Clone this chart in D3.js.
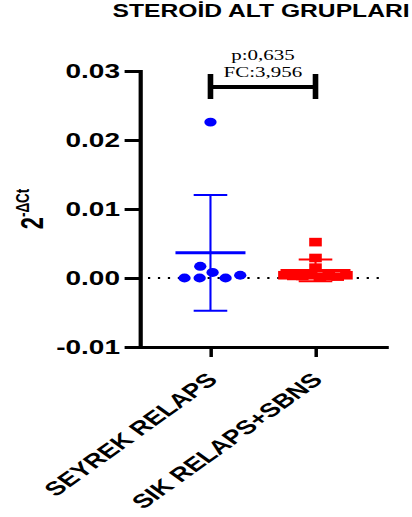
<!DOCTYPE html>
<html><head><meta charset="utf-8">
<script src="https://cdn.jsdelivr.net/npm/d3@7"></script>
<style>body{margin:0;background:#fff}svg{display:block}</style>
</head><body><svg id="c"></svg>
<script>
const title = "STEROİD ALT GRUPLARI";
const categories = ["SEYREK RELAPS", "SIK RELAPS+SBNS"];
const seyrekValues = [0, 0.0008, 0.0226, 0, 0.0017, 0.0004, 0];
const sikValues = [0.0052, 0.0029, 0.0015, 0.0004, 0.0003, 0.0002, 0.0004, 0.0003, 0.0002, 0.0003, 0.0004];
const yTickValues = [-0.01, 0, 0.01, 0.02, 0.03];
const yTickLabels = ["-0.01", "0.00", "0.01", "0.02", "0.03"];
const annotationLines = ["p:0,635", "FC:3,956"];
const yLabelBase = "2", yLabelSup = "-ΔCt";
const colors = ["#0000ff", "#ff0000"];

const W = 412, H = 517, SX = 1.4, W0 = W / SX;
const SANS = "'Liberation Sans', Arial, Helvetica, sans-serif";
const SERIF = "'Liberation Serif', 'Times New Roman', serif";

const svg = d3.select("#c").attr("width", W).attr("height", H)
  .attr("viewBox", `0 0 ${W0} ${H}`).attr("preserveAspectRatio", "none");

const x = d3.scalePoint().domain(categories).range([100, 275.7]).padding(0.671);
const y = d3.scaleLinear().domain([yTickValues[0], yTickValues[yTickValues.length - 1]]).range([347, 71]);

// title
svg.append("text").attr("x", 186.5).attr("y", 17.5).attr("text-anchor", "middle")
  .attr("font-family", SANS).attr("font-weight", "bold").attr("font-size", 17.6)
  .text(title);

// zero dotted line
svg.append("line").attr("x1", 105.7).attr("x2", 275.7).attr("y1", y(0)).attr("y2", y(0))
  .attr("stroke", "#000").attr("stroke-width", 2.2).attr("stroke-dasharray", "1.6,5.5");

// axes
const yAxis = d3.axisLeft(y).tickValues(yTickValues)
  .tickFormat((d, i) => yTickLabels[i]).tickSize(11).tickSizeOuter(0).tickPadding(3.3);
const gy = svg.append("g").attr("transform", "translate(100,0)").call(yAxis);
gy.select(".domain").attr("stroke-width", 3).attr("stroke-linecap", "square");
gy.selectAll(".tick line").attr("stroke-width", 3);
gy.selectAll(".tick text").attr("font-family", SANS).attr("font-weight", "bold").attr("font-size", 20).attr("fill", "#000");

const xAxis = d3.axisBottom(x).tickSize(10).tickSizeOuter(0);
const gx = svg.append("g").attr("transform", "translate(0,347)").call(xAxis);
gx.select(".domain").attr("stroke-width", 3).attr("stroke-linecap", "square");
gx.selectAll(".tick line").attr("stroke-width", 2.5);
gx.selectAll(".tick text").attr("font-family", SANS).attr("font-weight", "bold").attr("font-size", 19.5)
  .attr("fill", "#000").attr("x", 0).attr("y", 0).attr("dy", 0)
  .attr("text-anchor", "end").attr("transform", "translate(5.5,34) rotate(-45)");

// y label
const yl = svg.append("text").attr("transform", "translate(31,209) rotate(-90)")
  .attr("text-anchor", "middle").attr("font-family", SANS).attr("font-weight", "bold").attr("fill", "#000");
yl.append("tspan").attr("font-size", 22).text(yLabelBase);
yl.append("tspan").attr("font-size", 13.5).attr("dy", -10).text(yLabelSup);

// data groups
const groups = [
  {cat: categories[0], values: seyrekValues, color: colors[0], shape: "circle", collide: 5.4},
  {cat: categories[1], values: sikValues, color: colors[1], shape: "square", collide: 3.2}
];

groups.forEach(g => {
  const cx = x(g.cat);
  const nodes = g.values.map(v => ({v, fy: y(v), x: cx, y: y(v)}));
  const sim = d3.forceSimulation(nodes)
    .force("x", d3.forceX(cx).strength(0.15))
    .force("collide", d3.forceCollide(g.collide))
    .stop();
  for (let i = 0; i < 300; i++) sim.tick();

  const gg = svg.append("g").attr("fill", g.color);
  if (g.shape === "circle") {
    gg.selectAll("circle").data(nodes).join("circle")
      .attr("cx", d => d.x).attr("cy", d => y(d.v)).attr("r", 4.4);
  } else {
    gg.selectAll("rect").data(nodes).join("rect")
      .attr("x", d => d.x - 4.5).attr("y", d => y(d.v) - 4.3).attr("width", 9).attr("height", 8.6);
  }

  const m = d3.mean(g.values), sd = d3.deviation(g.values);
  const eb = svg.append("g").attr("stroke", g.color).attr("fill", "none");
  eb.append("line").attr("x1", cx).attr("x2", cx).attr("y1", y(m + sd)).attr("y2", y(m - sd)).attr("stroke-width", 1.5);
  eb.append("line").attr("x1", cx - 12).attr("x2", cx + 12).attr("y1", y(m + sd)).attr("y2", y(m + sd)).attr("stroke-width", 2);
  eb.append("line").attr("x1", cx - 12).attr("x2", cx + 12).attr("y1", y(m - sd)).attr("y2", y(m - sd)).attr("stroke-width", 2);
  eb.append("line").attr("x1", cx - 25).attr("x2", cx + 25).attr("y1", y(m)).attr("y2", y(m)).attr("stroke-width", 3);
});

// significance bracket
const bx0 = x(categories[0]), bx1 = x(categories[1]);
svg.append("path").attr("d", `M${bx0},74V99M${bx0},87H${bx1}M${bx1},74V99`)
  .attr("stroke", "#000").attr("stroke-width", 4).attr("fill", "none");
svg.append("g").selectAll("text").data(annotationLines).join("text")
  .attr("x", (bx0 + bx1) / 2).attr("y", (d, i) => 60.5 + i * 16.5)
  .attr("text-anchor", "middle").attr("font-family", SERIF).attr("font-size", 15).attr("fill", "#000")
  .text(d => d);
</script></body></html>
